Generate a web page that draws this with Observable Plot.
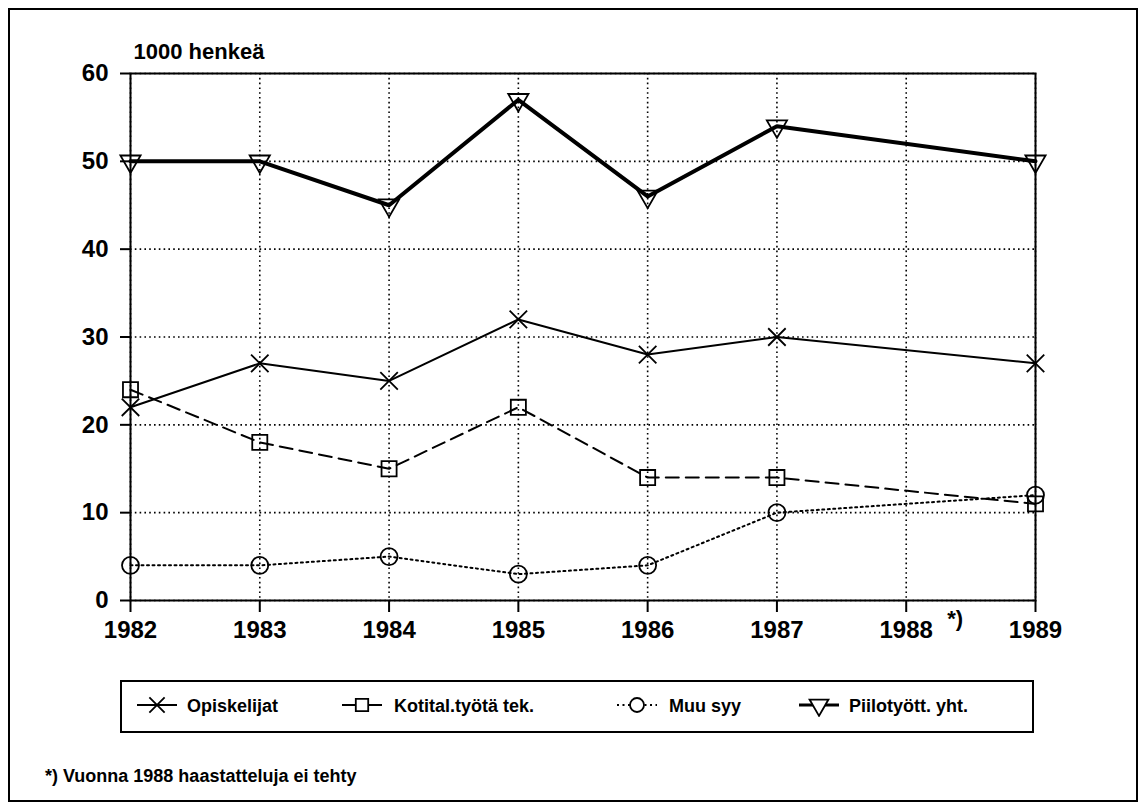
<!DOCTYPE html>
<html>
<head>
<meta charset="utf-8">
<script src="https://cdn.jsdelivr.net/npm/d3@7"></script>
<script src="https://cdn.jsdelivr.net/npm/@observablehq/plot@0.6"></script>
<style>
  html, body { margin: 0; padding: 0; background: #fff; }
  #wrap { position: relative; width: 1146px; height: 810px; font-family: "Liberation Sans", Arial, sans-serif; font-weight: bold; color: #000; }
  #frame { position: absolute; left: 8px; top: 8px; width: 1130px; height: 794px; border: 2px solid #000; box-sizing: border-box; }
  #chart { position: absolute; left: 0; top: 0; }
  #legend { position: absolute; left: 120px; top: 680px; width: 914px; height: 53px; border: 2px solid #000; box-sizing: border-box; }
  .li { position: absolute; top: 0; height: 49px; display: flex; align-items: center; }
  .li span { font-size: 18px; font-weight: bold; white-space: nowrap; }
  #note { position: absolute; left: 45px; top: 766px; font-size: 18px; font-weight: bold; }
</style>
</head>
<body>
<div id="wrap">
  <div id="frame"></div>
  <div id="chart"></div>
  <div id="legend"></div>
  <div id="note"></div>
</div>
<script>
// ---- data ----
const years = [1982, 1983, 1984, 1985, 1986, 1987, 1989];
const opiskelijat = [22, 27, 25, 32, 28, 30, 27];
const kotital = [24, 18, 15, 22, 14, 14, 11];
const muuSyy = [4, 4, 5, 3, 4, 10, 12];
const piilo = [50, 50, 45, 57, 46, 54, 50];
const seriesNames = ["Opiskelijat", "Kotital.työtä tek.", "Muu syy", "Piilotyött. yht."];
const xTicks = [1982, 1983, 1984, 1985, 1986, 1987, 1988, 1989];
const yTicks = [0, 10, 20, 30, 40, 50, 60];
const yLabel = ["1000 henkeä"];
const footnoteYear = [1988];
const footnoteMark = "*)";
const footnoteText = "*) Vuonna 1988 haastatteluja ei tehty";

// ---- styles ----
const styles = [
  { sw: 2, dash: null, legendDash: null, symbol: "times", d3sym: d3.symbolTimes, r: 8, rotate: 0 },
  { sw: 2, dash: "13,7", legendDash: null, symbol: "square", d3sym: d3.symbolSquare, r: 8.5, rotate: 0 },
  { sw: 2, dash: "2,3.5", legendDash: "2,3.5", symbol: "circle", d3sym: d3.symbolCircle, r: 8.5, rotate: 0 },
  { sw: 4, dash: null, legendDash: null, symbol: "triangle", d3sym: d3.symbolTriangle, r: 7.5, rotate: 180 }
];
const valueLists = [opiskelijat, kotital, muuSyy, piilo];
const rows = seriesNames.map((name, s) => years.map((yr, i) => ({ series: name, year: yr, value: valueLists[s][i] })));

const FONT = '"Liberation Sans", Arial, sans-serif';
const marks = [
  Plot.ruleX(xTicks, { stroke: "black", strokeWidth: 1.6, strokeDasharray: "1.6,3.2" }),
  Plot.ruleY(yTicks, { stroke: "black", strokeWidth: 1.6, strokeDasharray: "1.6,3.2" }),
  Plot.frame({ stroke: "black", strokeWidth: 2 })
];
rows.forEach((data, s) => {
  const st = styles[s];
  marks.push(Plot.line(data, { x: "year", y: "value", stroke: "black", strokeWidth: st.sw, strokeDasharray: st.dash }));
  marks.push(Plot.dot(data, { x: "year", y: "value", symbol: st.symbol, r: st.r, stroke: "black", fill: "none", strokeWidth: 1.8, rotate: st.rotate }));
});
marks.push(
  Plot.axisX({ ticks: xTicks, tickSize: 12, tickPadding: 8, tickFormat: "d", label: null, strokeWidth: 2, fontSize: 24, fontWeight: "bold" }),
  Plot.axisY({ ticks: yTicks, tickSize: 10, tickPadding: 12, label: null, strokeWidth: 2, fontSize: 24, fontWeight: "bold" }),
  Plot.text(yLabel, { frameAnchor: "top-left", lineAnchor: "middle", text: d => d, textAnchor: "start", dx: 3, dy: -22, fontSize: 22, fontWeight: "bold" }),
  Plot.text(footnoteYear, { x: d => d, y: () => 0, text: () => footnoteMark, dx: 49, dy: 18, fontSize: 22, fontWeight: "bold" })
);

const chart = Plot.plot({
  width: 1146,
  height: 660,
  marginLeft: 130,
  marginRight: 111,
  marginTop: 73,
  marginBottom: 60,
  x: { domain: [1982, 1989], axis: null },
  y: { domain: [0, 60], axis: null },
  style: { fontFamily: FONT, fontSize: "22px", fontWeight: "bold", background: "transparent", color: "black" },
  marks
});
document.getElementById("chart").appendChild(chart);

// ---- legend ----
const legendLayout = [
  { cx: 35, tx: 65 },
  { cx: 240, tx: 272 },
  { cx: 515, tx: 547 },
  { cx: 697, tx: 727 }
];
const legend = d3.select("#legend");
seriesNames.forEach((name, s) => {
  const st = styles[s];
  const L = legendLayout[s];
  const sw = legend.append("svg").attr("width", 44).attr("height", 24)
    .style("position", "absolute").style("left", (L.cx - 22) + "px").style("top", "11px");
  sw.append("line").attr("x1", 2).attr("x2", 42).attr("y1", 12).attr("y2", 12)
    .attr("stroke", "black").attr("stroke-width", Math.min(st.sw, 3))
    .attr("stroke-dasharray", st.legendDash);
  sw.append("path")
    .attr("d", d3.symbol(st.d3sym, Math.PI * 7 * 7)())
    .attr("transform", `translate(22,12) rotate(${st.rotate})`)
    .attr("fill", s === 0 ? "none" : "white")
    .attr("stroke", "black").attr("stroke-width", 1.8);
  legend.append("div").attr("class", "li").style("left", L.tx + "px").append("span").text(name);
});
document.getElementById("note").textContent = footnoteText;
</script>
</body>
</html>
